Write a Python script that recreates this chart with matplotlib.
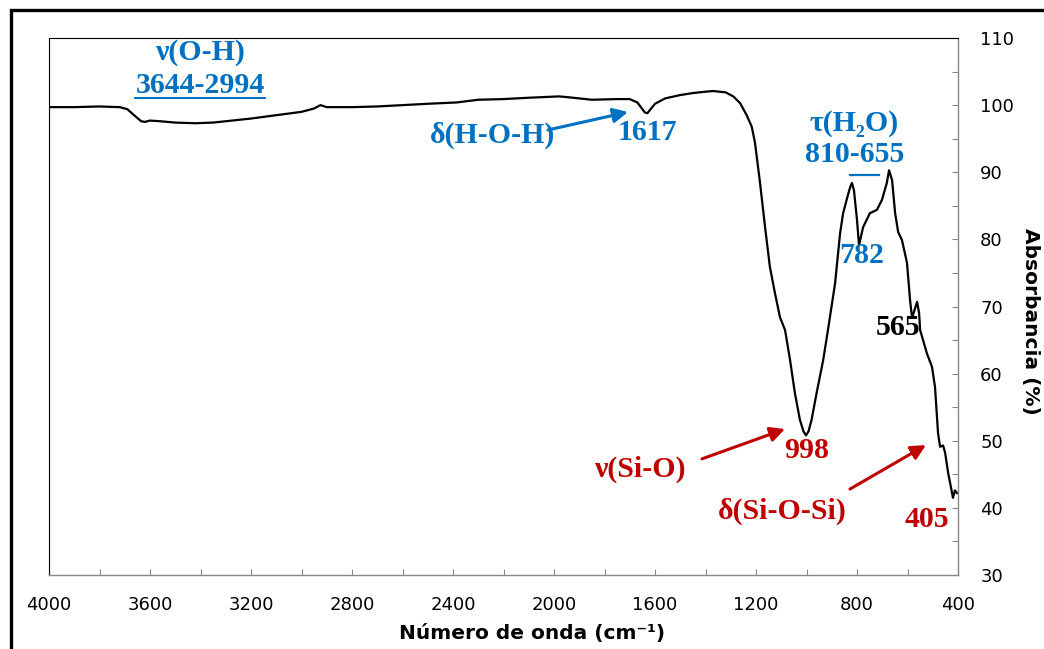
import matplotlib
matplotlib.use("Agg")
import matplotlib.pyplot as plt
from matplotlib.patches import Rectangle
from matplotlib.ticker import MultipleLocator

# ---- data ----
wavenumber = [4000, 3900, 3800, 3720, 3690, 3660, 3635, 3620, 3600, 3560, 3500, 3420,
              3350, 3250, 3200, 3100, 3000, 2950, 2925, 2900, 2860, 2800, 2700, 2600,
              2500, 2385, 2300, 2200, 2100, 1980, 1950, 1850, 1750, 1700, 1670, 1640,
              1630, 1600, 1560, 1500, 1450, 1400, 1370, 1320, 1290, 1263, 1237, 1217,
              1204, 1184, 1164, 1145, 1125, 1105, 1085, 1065, 1046, 1026, 1012, 1002,
              992, 980, 960, 934, 915, 887, 867, 855, 836, 826, 820, 812, 800, 792, 776,
              749, 721, 701, 682, 673, 661, 649, 637, 622, 602, 590, 582, 572, 562, 554,
              550, 523, 503, 491, 479, 471, 459, 451, 439, 428, 420, 412, 404]
absorbance = [99.7, 99.7, 99.8, 99.7, 99.4, 98.4, 97.6, 97.5, 97.7, 97.6, 97.4, 97.3,
              97.4, 97.8, 98.0, 98.5, 99.0, 99.5, 100.0, 99.7, 99.7, 99.7, 99.8, 100.0,
              100.2, 100.4, 100.8, 100.9, 101.1, 101.3, 101.2, 100.8, 100.9, 100.9, 100.4,
              98.9, 98.8, 100.2, 101.0, 101.5, 101.8, 102.0, 102.1, 101.9, 101.3, 100.3,
              98.5, 96.8, 94.4, 88.4, 81.8, 75.9, 72.0, 68.4, 66.5, 62.0, 57.1, 53.1, 51.4,
              50.8, 51.4, 53.1, 57.1, 62.0, 66.5, 73.4, 80.9, 83.9, 86.6, 87.9, 88.4, 87.3,
              82.9, 79.1, 81.8, 83.9, 84.4, 85.9, 88.4, 90.3, 88.8, 83.9, 81.1, 79.9, 76.5,
              71.0, 68.3, 69.5, 70.7, 69.0, 66.5, 63.0, 61.0, 58.0, 51.1, 49.1, 49.3, 48.2,
              45.2, 43.1, 41.5, 42.6, 42.2]

x_ticks = [4000, 3600, 3200, 2800, 2400, 2000, 1600, 1200, 800, 400]
y_ticks = [30, 40, 50, 60, 70, 80, 90, 100, 110]

BLUE = "#0070C0"
RED = "#C00000"
SERIF = ["Liberation Serif", "DejaVu Serif"]

fig = plt.figure(figsize=(10.44, 6.49), dpi=100)
ax = fig.add_axes([49 / 1044, 1 - 575 / 649, 909 / 1044, 537 / 649])

ax.plot(wavenumber, absorbance, color="black", lw=1.6, solid_joinstyle="round")

ax.set_xlim(4000, 400)
ax.set_ylim(30, 110)
ax.set_xticks(x_ticks)
ax.set_xticklabels([str(t) for t in x_ticks])
ax.xaxis.set_minor_locator(MultipleLocator(200))
ax.set_yticks(y_ticks)
ax.yaxis.set_minor_locator(MultipleLocator(5))
ax.yaxis.tick_right()

ax.tick_params(axis="x", which="both", direction="in", length=4, width=0.8,
               color="#888888", labelsize=13, pad=15)
ax.tick_params(axis="y", which="both", direction="in", length=4, width=0.8,
               color="#888888", labelsize=13, pad=16, left=False, right=True)

for s in ("top", "left"):
    ax.spines[s].set_color("black")
    ax.spines[s].set_linewidth(0.8)
for s in ("bottom", "right"):
    ax.spines[s].set_color("#888888")
    ax.spines[s].set_linewidth(1.0)

fig.text(532 / 1044, 1 - 633 / 649, "Número de onda (cm⁻¹)", fontsize=14.5,
         fontweight="bold", ha="center", va="center")
fig.text(1030 / 1044, 1 - 321 / 649, "Absorbancia (%)", fontsize=14.5,
         fontweight="bold", ha="center", va="center", rotation=270)

tkw = dict(fontsize=21.5, fontweight="bold", ha="center", va="center", family=SERIF)

# blue annotations
ax.text(3402, 107.9, "ν(O-H)", color=BLUE, **tkw)
t_oh = ax.text(3402, 102.85, "3644-2994", color=BLUE, **tkw)
ax.text(2245, 95.55, "δ(H-O-H)", color=BLUE, **tkw)
ax.text(1628, 95.85, "1617", color=BLUE, **tkw)
ax.annotate("", xy=(1707, 98.97), xytext=(2024, 96.3),
            arrowprops=dict(arrowstyle="-|>", color=BLUE, lw=2.2, mutation_scale=22,
                            shrinkA=0, shrinkB=0))
ax.text(812, 97.2, "τ(H₂O)", color=BLUE, **tkw)
ax.text(808, 92.57, "810-655", color=BLUE, **tkw)
ax.plot([828, 713], [89.6, 89.6], color=BLUE, lw=1.6)
ax.text(780, 77.67, "782", color=BLUE, **tkw)

# black
ax.text(638, 66.8, "565", color="black", **tkw)

# red annotations
ax.text(998, 48.6, "998", color=RED, **tkw)
ax.text(1659, 45.8, "ν(Si-O)", color=RED, **tkw)
ax.annotate("", xy=(1085, 51.75), xytext=(1414, 47.3),
            arrowprops=dict(arrowstyle="-|>", color=RED, lw=2.2, mutation_scale=22,
                            shrinkA=0, shrinkB=0))
ax.text(1097, 39.5, "δ(Si-O-Si)", color=RED, **tkw)
ax.annotate("", xy=(527, 49.35), xytext=(828, 42.8),
            arrowprops=dict(arrowstyle="-|>", color=RED, lw=2.2, mutation_scale=22,
                            shrinkA=0, shrinkB=0))
ax.text(523, 38.2, "405", color=RED, **tkw)

# underline for the O-H range label
fig.canvas.draw()
bb = t_oh.get_window_extent(renderer=fig.canvas.get_renderer())
inv = fig.transFigure.inverted()
(x0, y0), (x1, y1) = inv.transform([(bb.x0, bb.y0), (bb.x1, bb.y0)])
fig.add_artist(plt.Line2D([x0, x1], [y0 + 1 / 649, y0 + 1 / 649],
                          transform=fig.transFigure, color=BLUE, lw=1.5))

# thick outer frame (top and left edges visible)
fig.add_artist(Rectangle((10.5 / 1044, -0.2), 1.5, 1.2 - 10.5 / 649,
                         transform=fig.transFigure, fill=False, ec="black", lw=2.4))

fig.savefig("out.png", dpi=100)
